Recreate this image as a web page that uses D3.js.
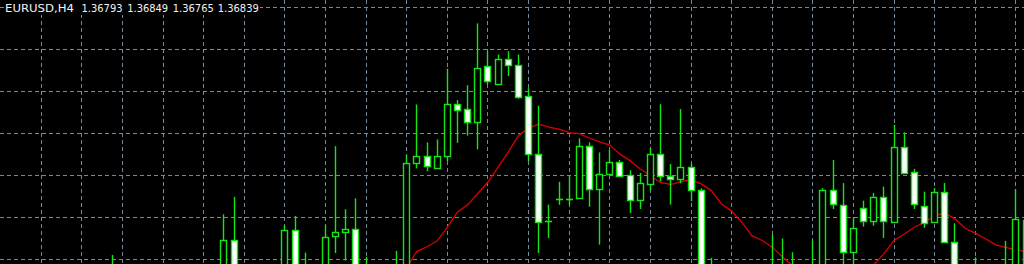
<!DOCTYPE html>
<html><head><meta charset="utf-8">
<style>html,body{margin:0;padding:0;background:#000;overflow:hidden}</style>
<script src="https://cdn.jsdelivr.net/npm/d3@7"></script>
</head><body>
<svg id="c" width="1024" height="264"></svg>
<script>
// ---- data ----
const symbolLabel = "EURUSD,H4";
const headerValues = ["1.36793", "1.36849", "1.36765", "1.36839"];
const bars = [11,12,13,14,15,16,17,18,19,20,21,22,23,24,25,26,27,28,29,30,31,32,33,34,35,36,37,38,39,40,
  41,42,43,44,45,46,47,48,49,50,51,52,53,54,55,56,57,58,59,60,61,62,63,64,65,66,67,68,69,70,
  71,72,73,74,75,76,77,78,79,80,81,82,83,84,85,86,87,88,89,90,91,92,93,94,95,96,97,98,99,100,101];
const open = [1.34960,1.34900,1.34870,1.34900,1.34920,1.34890,1.34910,1.34930,1.34900,1.34920,
  1.34935,1.34926,1.35091,1.34912,1.34930,1.34900,1.34925,1.34902,1.35139,1.34926,
  1.34879,1.34920,1.35109,1.35126,1.35140,1.34926,1.34855,1.34900,1.34879,1.34902,
  1.35458,1.35493,1.35434,1.35490,1.35739,1.35715,1.35653,1.35921,1.35834,1.35956,
  1.35926,1.35775,1.35502,1.35180,1.35287,1.35287,1.35290,1.35539,1.35332,1.35404,
  1.35460,1.35399,1.35279,1.35358,1.35502,1.35396,1.35383,1.35436,1.35328,1.34902,
  1.34855,1.34880,1.34850,1.34870,1.34840,1.34880,1.34926,1.34912,1.34950,1.34900,
  1.34920,1.35328,1.35255,1.35031,1.35242,1.35182,1.35296,1.35175,1.35534,1.35412,
  1.35253,1.35175,1.35320,1.35079,1.34879,1.34910,1.34879,1.34920,1.34900,1.34926,1.34950];
const high = [1.35021,1.34940,1.34930,1.34950,1.34960,1.34940,1.34955,1.34960,1.34950,1.34965,
  1.34960,1.35215,1.35298,1.34950,1.34960,1.34940,1.34955,1.35164,1.35207,1.35032,
  1.34950,1.35164,1.35540,1.35239,1.35291,1.35012,1.34926,1.34940,1.35040,1.35498,
  1.35739,1.35558,1.35572,1.35910,1.35760,1.35831,1.36126,1.35993,1.35977,1.35993,
  1.35977,1.35817,1.35733,1.35261,1.35370,1.35402,1.35577,1.35558,1.35510,1.35521,
  1.35474,1.35425,1.35412,1.35534,1.35740,1.35455,1.35717,1.35458,1.35339,1.35007,
  1.34930,1.34920,1.34900,1.34910,1.34920,1.35118,1.35099,1.35034,1.34960,1.35090,
  1.35340,1.35474,1.35364,1.35201,1.35280,1.35317,1.35347,1.35642,1.35606,1.35431,
  1.35323,1.35340,1.35364,1.35172,1.34950,1.35010,1.34940,1.34960,1.35088,1.35336,1.35260];
const low = [1.34845,1.34850,1.34820,1.34860,1.34870,1.34850,1.34870,1.34880,1.34860,1.34880,
  1.34890,1.34893,1.34879,1.34870,1.34880,1.34860,1.34880,1.34864,1.34893,1.34845,
  1.34850,1.34888,1.35030,1.34994,1.34879,1.34817,1.34830,1.34850,1.34845,1.34864,
  1.35434,1.35421,1.35431,1.35466,1.35556,1.35590,1.35525,1.35834,1.35834,1.35875,
  1.35766,1.35466,1.35030,1.35102,1.35260,1.35260,1.35290,1.35251,1.35070,1.35404,
  1.35393,1.35221,1.35240,1.35328,1.35372,1.35261,1.35363,1.35277,1.34831,1.34807,
  1.34800,1.34820,1.34790,1.34810,1.34800,1.34831,1.34855,1.34860,1.34870,1.34855,
  1.34880,1.35240,1.34950,1.34950,1.35156,1.35160,1.35102,1.35175,1.35410,1.35240,
  1.35150,1.35175,1.35079,1.34831,1.34820,1.34845,1.34830,1.34860,1.34845,1.34879,1.34900];
const close = [1.34879,1.34870,1.34900,1.34920,1.34890,1.34910,1.34930,1.34900,1.34920,1.34935,
  1.34910,1.35091,1.34912,1.34930,1.34900,1.34925,1.34902,1.35139,1.34926,1.34879,
  1.34920,1.35104,1.35128,1.35140,1.34926,1.34855,1.34900,1.34880,1.34950,1.35455,
  1.35491,1.35442,1.35491,1.35739,1.35712,1.35653,1.35913,1.35851,1.35956,1.35925,
  1.35772,1.35501,1.35177,1.35180,1.35287,1.35287,1.35539,1.35332,1.35406,1.35460,
  1.35393,1.35279,1.35363,1.35502,1.35393,1.35380,1.35436,1.35328,1.34879,1.34855,
  1.34880,1.34850,1.34870,1.34840,1.34880,1.34926,1.34912,1.34950,1.34900,1.34950,
  1.35328,1.35261,1.35031,1.35145,1.35182,1.35296,1.35182,1.35534,1.35410,1.35261,
  1.35169,1.35320,1.35079,1.34879,1.34910,1.34879,1.34920,1.34900,1.34950,1.35188,1.35183];
const maBars = bars.slice(bars.indexOf(39));
const maValues = [1.34926,1.34960,1.35038,1.35060,1.35088,1.35152,1.35226,1.35260,1.35314,1.35369,
  1.35440,1.35512,1.35590,1.35626,1.35645,1.35631,1.35621,1.35605,1.35600,1.35579,
  1.35560,1.35545,1.35502,1.35471,1.35431,1.35400,1.35367,1.35357,1.35371,1.35379,
  1.35360,1.35328,1.35264,1.35230,1.35177,1.35113,1.35090,1.35058,1.35012,1.34969,
  1.34940,1.34921,1.34912,1.34912,1.34917,1.34931,1.34950,1.34974,1.35026,1.35090,
  1.35121,1.35153,1.35177,1.35209,1.35221,1.35193,1.35148,1.35125,1.35098,1.35069,
  1.35057,1.35045,1.35036];
const gridBars = [4,8,12,16,20,24,28,32,36,40,44,48,52,56,60,64,68,72,76,80,84,88,92,96,100];
const priceTicks = [1.350,1.352,1.354,1.356,1.358,1.360,1.362];

// ---- drawing ----
const W = 1024, H = 264;
const GREEN = "#14e614", GRID = "#778899", RED = "#d80000";
const x = d3.scaleLinear().domain([0, 100]).range([0.6, 1015.9]);
const y = d3.scaleLinear().domain([1.350, 1.362]).range([259.3, 7.9]);
const crisp = v => Math.round(v - 0.5) + 0.5;

const svg = d3.select("#c");
svg.append("rect").attr("width", W).attr("height", H).attr("fill", "#000");

const grid = svg.append("g").attr("stroke", GRID).attr("stroke-width", 1)
  .attr("stroke-dasharray", "4,3").attr("shape-rendering", "crispEdges");
grid.selectAll("line.h").data(priceTicks).join("line").attr("class", "h")
  .attr("x1", 0).attr("x2", W).attr("y1", d => crisp(y(d))).attr("y2", d => crisp(y(d)));
grid.selectAll("line.v").data(gridBars).join("line").attr("class", "v")
  .attr("y1", 0).attr("y2", H).attr("x1", d => crisp(x(d))).attr("x2", d => crisp(x(d)));

// moving average
const ma = d3.line().x((d, i) => x(maBars[i])).y(d => y(d));
svg.append("path").attr("d", ma(maValues)).attr("fill", "none")
  .attr("stroke", RED).attr("stroke-width", 1.3);

// candles
const candles = bars.map((b, i) => ({b, o: open[i], h: high[i], l: low[i], c: close[i]}));
const g = svg.append("g");
candles.forEach(d => {
  const cx = crisp(x(d.b));
  g.append("line").attr("x1", cx).attr("x2", cx)
    .attr("y1", y(d.h)).attr("y2", y(d.l))
    .attr("stroke", GREEN).attr("stroke-width", 1.4);
  const top = crisp(y(Math.max(d.o, d.c))), bot = crisp(y(Math.min(d.o, d.c)));
  if (bot - top < 1) {
    g.append("line").attr("x1", cx - 3.6).attr("x2", cx + 3.6)
      .attr("y1", top).attr("y2", top).attr("stroke", GREEN).attr("stroke-width", 1.6);
  } else {
    g.append("rect").attr("x", cx - 3).attr("width", 6)
      .attr("y", top).attr("height", bot - top)
      .attr("fill", d.c > d.o ? "#000" : "#fff")
      .attr("stroke", GREEN).attr("stroke-width", 1.4);
  }
});

// header
svg.append("rect").attr("x", 4).attr("y", 0).attr("width", 256).attr("height", 15).attr("fill", "#000");
const txt = svg.append("g").attr("fill", "#f2f2f2")
  .attr("font-family", "'DejaVu Sans', sans-serif").attr("font-size", 11);
txt.append("text").attr("x", 5).attr("y", 12).attr("textLength", 69)
  .attr("lengthAdjust", "spacingAndGlyphs").text(symbolLabel);
const hx = [81.5, 127.2, 172.8, 217.8];
headerValues.forEach((v, i) => {
  txt.append("text").attr("x", hx[i]).attr("y", 12).attr("textLength", 41)
    .attr("lengthAdjust", "spacingAndGlyphs").text(v);
});
</script>
</body></html>
